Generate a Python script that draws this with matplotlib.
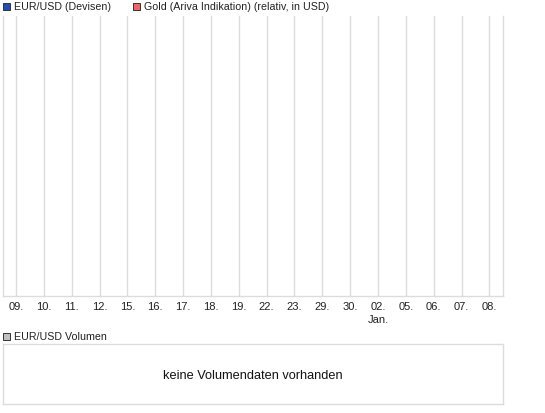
import matplotlib
matplotlib.use("Agg")
import matplotlib.pyplot as plt
from matplotlib.patches import Rectangle

plt.rcParams['font.family'] = ['Liberation Sans', 'DejaVu Sans']

# ---- data ----
tick_labels = ["09.", "10.", "11.", "12.", "15.", "16.", "17.", "18.", "19.",
               "22.", "23.", "29.", "30.", "02.\nJan.", "05.", "06.", "07.", "08."]
eurusd_values = []   # no data shown
gold_values = []     # no data shown
volume_values = []   # no volume data
legend_main = ["EUR/USD (Devisen)", "Gold (Ariva Indikation) (relativ, in USD)"]
legend_main_colors = ["#1e50b4", "#f06464"]
legend_volume = "EUR/USD Volumen"
no_volume_text = "keine Volumendaten vorhanden"

W, H = 545, 413
fig = plt.figure(figsize=(W / 100, H / 100), dpi=100)
fig.patch.set_facecolor("white")

def px_rect(x0, y0, x1, y1):
    return [x0 / W, (H - y1) / H, (x1 - x0) / W, (y1 - y0) / H]

grid_col = "#dcdcdc"

# main axes
ax = fig.add_axes(px_rect(2.7, 16, 503.3, 296))
x = list(range(len(tick_labels)))
ax.plot(x[:len(eurusd_values)], eurusd_values, color=legend_main_colors[0])
ax.plot(x[:len(gold_values)], gold_values, color=legend_main_colors[1])
ax.set_xlim(-0.48, len(tick_labels) - 1 + 0.5)
ax.set_ylim(0, 1)
ax.set_xticks(x)
ax.set_xticklabels(tick_labels, fontsize=8.0, color="#222222", linespacing=1.35)
ax.tick_params(axis="x", length=0, pad=4.5)
ax.set_yticks([])
ax.grid(axis="x", color=grid_col, linewidth=1)
for s in ["left", "right", "bottom"]:
    ax.spines[s].set_color(grid_col)
    ax.spines[s].set_linewidth(1)
ax.spines["top"].set_visible(False)

# volume axes
axv = fig.add_axes(px_rect(2.7, 344, 503.3, 404))
axv.set_xticks([])
axv.set_yticks([])
for s in axv.spines.values():
    s.set_color(grid_col)
    s.set_linewidth(1)
axv.text(0.5, 0.47, no_volume_text, transform=axv.transAxes, ha="center",
         va="center", fontsize=9.2, color="#111111")

# legends
def legend_item(x0, yc, color, label):
    sq = 7
    fig.patches.append(Rectangle(((x0) / W, (H - yc - sq / 2) / H), sq / W, sq / H,
                                 transform=fig.transFigure, facecolor=color,
                                 edgecolor="#333333", linewidth=0.7))
    fig.text((x0 + sq + 4) / W, (H - yc) / H, label, ha="left", va="center",
             fontsize=7.7, color="#222222")

legend_item(3.3, 6.5, legend_main_colors[0], legend_main[0])
legend_item(132.5, 6.5, legend_main_colors[1], legend_main[1])
legend_item(3.3, 336.5, "#c0c0c0", legend_volume)

fig.savefig("out.png", dpi=100, facecolor="white")
